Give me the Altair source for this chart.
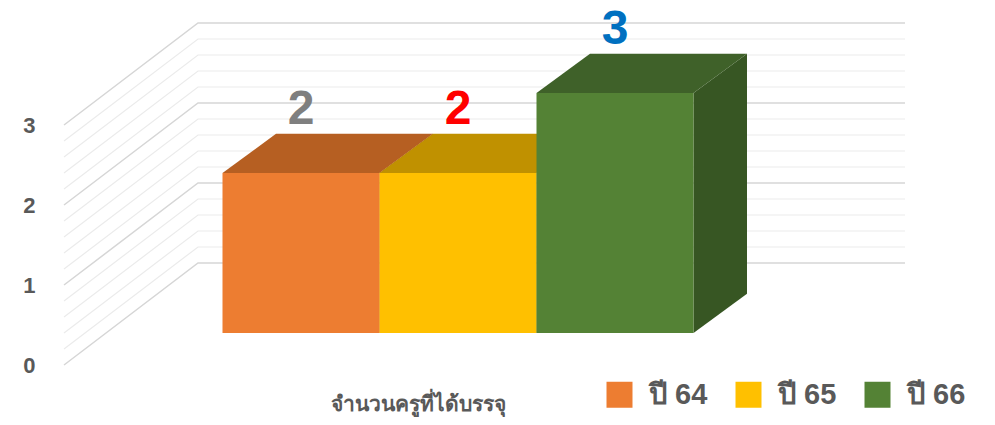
import altair as alt
import pandas as pd

# ---------------- data ----------------
categories = ["ปี 64", "ปี 65", "ปี 66"]
values = [2, 2, 3]
y_ticks = [0, 1, 2, 3]
grid_levels = [0.0, 0.2, 0.4, 0.6, 0.8, 1.0, 1.2, 1.4, 1.6, 1.8,
               2.0, 2.2, 2.4, 2.6, 2.8, 3.0]
x_title = "จำนวนครูที่ได้บรรจุ"

# ---------------- styles ----------------
front_colors = ["#ED7D31", "#FFC000", "#548235"]
top_colors = ["#B65F22", "#C09100", "#3F6129"]
side_colors = ["#9C4F1C", "#A07A00", "#375623"]
label_colors = ["#7F7F7F", "#FF0000", "#0070C0"]
FONT = "Liberation Sans, Arial, sans-serif"
TEXT_GRAY = "#595959"

# ---------------- layout (x in page px, y in value units) ----------------
PAD_LEFT = 37
W, H = 942, 409
X_MIN = 8 + PAD_LEFT
PX_PER_UNIT = 80
Y_MAX = (365 - 8) / PX_PER_UNIT
Y_MIN = Y_MAX - H / PX_PER_UNIT
FLOOR_X0, WALL_X0, WALL_X1 = 64, 198, 905
WALL_DY = 102 / PX_PER_UNIT
BAR_X0, BAR_W = 222.5, 157
BAR_BASE = 0.4
DEPTH_DX, DEPTH_DY = 53.5, 0.49
LABEL_GAP = 0.125

xs = alt.Scale(domain=[X_MIN, X_MIN + W], nice=False, zero=False)
ys = alt.Scale(domain=[Y_MIN, Y_MAX], nice=False, zero=False)

x_axis = alt.Axis(title=x_title, labels=False, ticks=False, domain=False, grid=False,
                  titleX=418 - X_MIN, titleY=-7, titleAlign="center",
                  titleBaseline="alphabetic", titleFontSize=21, titleFontWeight="bold",
                  titleColor=TEXT_GRAY, titleFont=FONT)
y_axis = alt.Axis(values=y_ticks, title=None, domain=False, ticks=False, grid=False,
                  labelFontSize=22, labelFontWeight="bold", labelColor=TEXT_GRAY,
                  labelPadding=10, labelFont=FONT)


def X(field):
    return alt.X(field, type="quantitative", scale=xs, axis=x_axis)


def Y(field):
    return alt.Y(field, type="quantitative", scale=ys, axis=y_axis)


# ---------------- gridlines (back wall + floor-to-wall diagonals) ----------------
grid_rows = []
for lv in grid_levels:
    major = abs(lv - round(lv)) < 1e-9
    grid_rows += [
        {"lv": lv, "o": 0, "x": FLOOR_X0, "y": lv, "major": major},
        {"lv": lv, "o": 1, "x": WALL_X0, "y": lv + WALL_DY, "major": major},
        {"lv": lv, "o": 2, "x": WALL_X1, "y": lv + WALL_DY, "major": major},
    ]
grid_df = pd.DataFrame(grid_rows)

grid_minor = alt.Chart(grid_df[~grid_df["major"]]).mark_line(
    color="#EBEBEB", strokeWidth=1.2).encode(
    x=X("x"), y=Y("y"), detail="lv:N", order="o:Q")
grid_major = alt.Chart(grid_df[grid_df["major"]]).mark_line(
    color="#D6D6D6", strokeWidth=1.5).encode(
    x=X("x"), y=Y("y"), detail="lv:N", order="o:Q")

# ---------------- bars ----------------
front_rows, top_rows, side_rows, label_rows = [], [], [], []
for i, (c, v) in enumerate(zip(categories, values)):
    xl = BAR_X0 + i * BAR_W
    xr = xl + BAR_W
    yb = BAR_BASE
    yt = BAR_BASE + v
    front_rows.append({"cat": c, "xl": xl, "xr": xr, "yb": yb, "yt": yt})
    top_rows += [
        {"cat": c, "col": top_colors[i], "y": yt, "x": xl, "x2": xr},
        {"cat": c, "col": top_colors[i], "y": yt + DEPTH_DY,
         "x": xl + DEPTH_DX, "x2": xr + DEPTH_DX},
    ]
    side_rows += [
        {"cat": c, "col": side_colors[i], "x": xr, "y": yb, "y2": yt},
        {"cat": c, "col": side_colors[i], "x": xr + DEPTH_DX,
         "y": yb + DEPTH_DY, "y2": yt + DEPTH_DY},
    ]
    label_rows.append({"cat": c, "txt": str(v), "col": label_colors[i],
                       "x": (xl + xr) / 2, "y": yt + DEPTH_DY + LABEL_GAP})

sides = alt.Chart(pd.DataFrame(side_rows)).mark_area(orient="vertical").encode(
    x=X("x"), y=Y("y"), y2="y2", detail="cat:N",
    color=alt.Color("col:N", scale=None))

tops = alt.Chart(pd.DataFrame(top_rows)).mark_area(orient="horizontal").encode(
    y=Y("y"), x=X("x"), x2="x2", detail="cat:N",
    color=alt.Color("col:N", scale=None))

fronts = alt.Chart(pd.DataFrame(front_rows)).mark_rect().encode(
    x=X("xl"), x2="xr", y=Y("yb"), y2="yt",
    color=alt.Color("cat:N", scale=alt.Scale(domain=categories, range=front_colors),
                    legend=alt.Legend(title=None, orient="none", legendX=605 - X_MIN,
                                      legendY=380 - 8, direction="horizontal",
                                      symbolType="square", symbolSize=676,
                                      symbolStrokeWidth=0, symbolOpacity=1,
                                      labelFontSize=29, labelFontWeight="bold",
                                      labelColor=TEXT_GRAY, labelFont=FONT,
                                      labelOffset=15, columnPadding=26,
                                      padding=0)))

labels = alt.Chart(pd.DataFrame(label_rows)).mark_text(
    fontSize=48, fontWeight="bold", font=FONT, baseline="alphabetic",
    align="center").encode(
    x=X("x"), y=Y("y"), text="txt:N", color=alt.Color("col:N", scale=None))

chart = alt.layer(grid_minor, grid_major, sides, tops, fronts, labels).properties(
    width=W, height=H,
    background="white",
    autosize=alt.AutoSizeParams(type="none"),
    padding={"left": PAD_LEFT, "top": 0, "right": 0, "bottom": 0},
).configure_view(strokeWidth=0, stroke="transparent")

chart.save("out.html", embed_options={"renderer": "svg", "actions": False})
